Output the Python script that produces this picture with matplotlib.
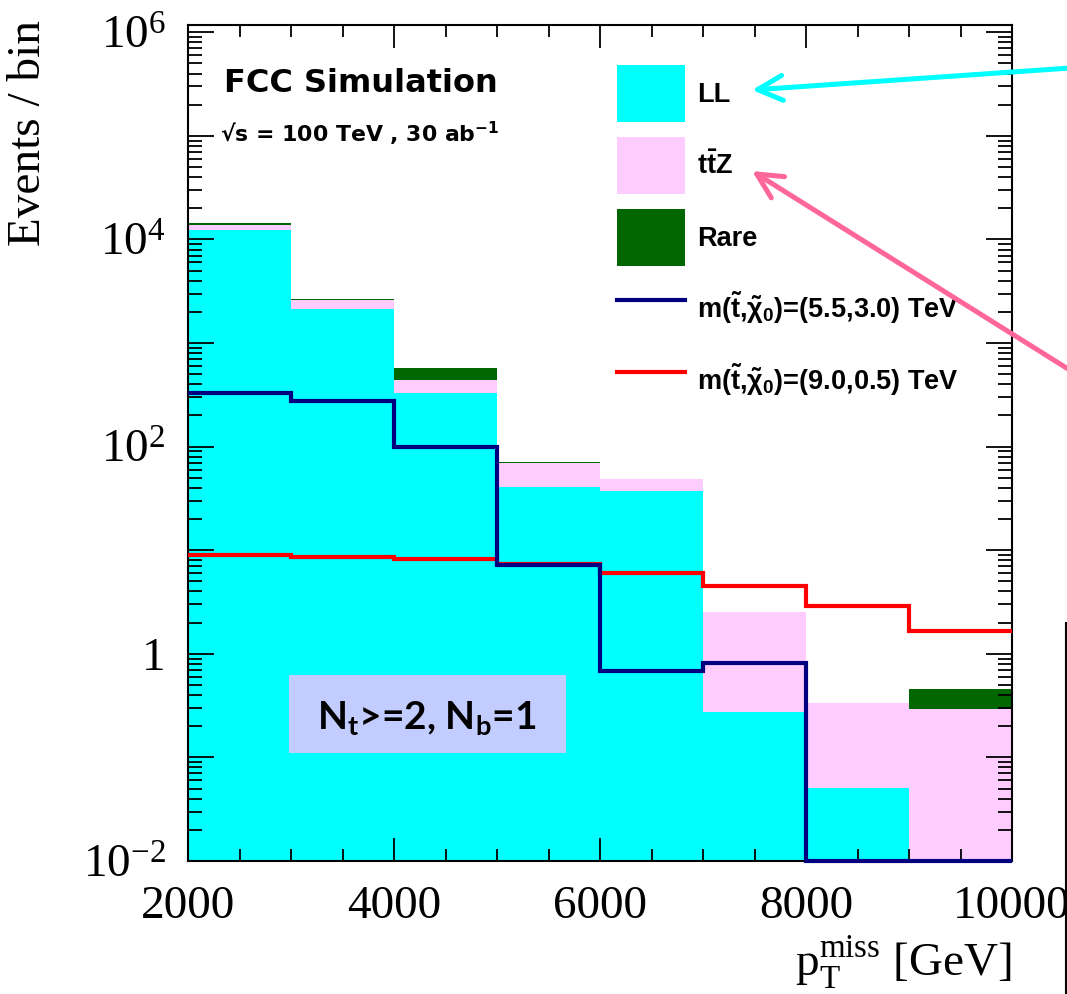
import numpy as np
import matplotlib
matplotlib.use("Agg")
import matplotlib.pyplot as plt
from matplotlib.patches import Patch, Rectangle, FancyArrowPatch
from matplotlib.lines import Line2D
from matplotlib.ticker import FixedLocator, MultipleLocator, FuncFormatter

# bin edges of p_T^miss [GeV]
edges = np.array([2000, 3000, 4000, 5000, 6000, 7000, 8000, 9000, 10000])

# stacked backgrounds, events / bin
ll = np.array([12300, 2115, 327, 41.0, 37.5, 0.276, 0.0503, 0.0])
ttz = np.array([1450, 485, 109, 28.5, 10.8, 2.27, 0.287, 0.291])
rare = np.array([530, 80, 142, 2.0, 0.0, 0.0, 0.0, 0.163])

# signal points
sig_55_30 = np.array([331, 276, 98.5, 7.2, 0.687, 0.81, 0.0, 0.0])
sig_90_05 = np.array([9.0, 8.65, 8.2, 7.3, 6.07, 4.51, 2.91, 1.66])

labels = ["LL", r"$\mathdefault{t\bar{t}Z}$", "Rare",
          r"m($\mathdefault{\tilde{t}}$,$\mathdefault{\tilde{\chi}_{0}}$)=(5.5,3.0) TeV",
          r"m($\mathdefault{\tilde{t}}$,$\mathdefault{\tilde{\chi}_{0}}$)=(9.0,0.5) TeV"]

c_ll = "#00ffff"
c_ttz = "#ffccff"
c_rare = "#006600"
c_navy = "#000080"
c_red = "#ff0000"

plt.rcParams['font.family'] = ['Liberation Serif', 'DejaVu Serif']

W, H = 1067, 994
fig = plt.figure(figsize=(W / 100, H / 100), dpi=100)
ax = fig.add_axes([188 / W, 1 - 861 / H, 824 / W, 836 / H])

ymin, ymax = 1e-2, 1.176e6
floor = 1e-6
ax.set_yscale('log')

# ROOT-like stack: draw cumulative totals from the floor upwards
tot3 = ll + ttz + rare
tot2 = ll + ttz
ax.stairs(np.maximum(tot3, floor), edges, fill=True, color=c_rare, baseline=floor, lw=0)
ax.stairs(np.maximum(tot2, floor), edges, fill=True, color=c_ttz, baseline=floor, lw=0)
ax.stairs(np.maximum(ll, floor), edges, fill=True, color=c_ll, baseline=floor, lw=0)

ax.stairs(np.maximum(sig_90_05, ymin), edges, baseline=None, color=c_red, lw=3, zorder=3)
ax.stairs(np.maximum(sig_55_30, ymin), edges, baseline=None, color=c_navy, lw=3,
          zorder=4, clip_on=False)

ax.set_xlim(2000, 10000)
ax.set_ylim(ymin, ymax)

# ticks
ax.xaxis.set_major_locator(MultipleLocator(2000))
ax.xaxis.set_minor_locator(MultipleLocator(500))
ax.yaxis.set_major_locator(FixedLocator(10.0 ** np.arange(-2, 7)))
ax.yaxis.set_minor_locator(FixedLocator([m * 10.0 ** e for e in range(-2, 6) for m in range(2, 10)]))


def ylab(v, pos):
    e = int(round(np.log10(v)))
    if e % 2:
        return ""
    if e == 0:
        return "1"
    return r"$\mathdefault{10^{%d}}$" % e


ax.yaxis.set_major_formatter(FuncFormatter(ylab))
ax.yaxis.set_minor_formatter(FuncFormatter(lambda v, p: ""))

ax.tick_params(which='both', direction='in', top=True, right=True, labelsize=34, width=1.3)
ax.tick_params(axis='x', which='major', length=16.5, pad=18)
ax.tick_params(axis='x', which='minor', length=8.4)
ax.tick_params(axis='y', which='major', length=19, pad=16)
ax.tick_params(axis='y', which='minor', length=9.8)
for s in ax.spines.values():
    s.set_linewidth(1.5)

ax.set_xlabel(r"$\mathdefault{p}_{\mathdefault{T}}^{\mathdefault{miss}}$ [GeV]", fontsize=34,
              ha='right', va='top')
ax.xaxis.set_label_coords(1.0, -0.088)
ax.set_ylabel("Events / bin", fontsize=34, ha='right', va='bottom')
ax.yaxis.set_label_coords(-0.168, 1.006)

# legend
handles = [Patch(facecolor=c_ll, edgecolor='none'),
           Patch(facecolor=c_ttz, edgecolor='none'),
           Patch(facecolor=c_rare, edgecolor='none'),
           Line2D([], [], color=c_navy, lw=3),
           Line2D([], [], color=c_red, lw=3)]
fig.legend(handles, labels, loc='upper left', bbox_to_anchor=(617 / W, 1 - 65 / H),
           bbox_transform=fig.transFigure, frameon=False, borderpad=0, borderaxespad=0,
           handlelength=2.5, handleheight=2.86, handletextpad=0.45, labelspacing=0.56,
           prop={'family': ['Liberation Sans', 'DejaVu Sans'], 'weight': 'bold', 'size': 19.5})

fig.text(224 / W, 1 - 91.7 / H, "FCC Simulation", family='DejaVu Sans', weight='bold', size=23,
         ha='left', va='baseline')
fig.text(220 / W, 1 - 142.3 / H, "\u221as = 100 TeV , 30 ab$^{\\mathdefault{-1}}$",
         family='DejaVu Sans', weight='bold', size=15.8, ha='left', va='baseline')

# selection box
fig.add_artist(Rectangle((289 / W, 1 - 753 / H), 277 / W, 78 / H, transform=fig.transFigure,
                         facecolor='#c2ccff', edgecolor='none', zorder=5))
fig.text(427 / W, 1 - 730 / H, r"N$_{\mathdefault{t}}$>=2, N$_{\mathdefault{b}}$=1",
         family=['Lato', 'DejaVu Sans'], weight='bold', size=28, ha='center', va='baseline',
         zorder=6)

# arrows pointing at the legend
fig.add_artist(FancyArrowPatch((1.01, 1 - 67.5 / H), (752 / W, 1 - 90 / H),
                               transform=fig.transFigure, arrowstyle='->', mutation_scale=45,
                               lw=3.6, color='#00ffff', shrinkA=0, shrinkB=0, zorder=7))
fig.add_artist(FancyArrowPatch((1.01, 1 - 375 / H), (752 / W, 1 - 171 / H),
                               transform=fig.transFigure, arrowstyle='->', mutation_scale=45,
                               lw=3.6, color='#ff6699', shrinkA=0, shrinkB=0, zorder=7))
fig.add_artist(Line2D([1066 / W, 1066 / W], [0, 1 - 623 / H], transform=fig.transFigure,
                      color='black', lw=1.5))

fig.savefig("out.png", dpi=100)
